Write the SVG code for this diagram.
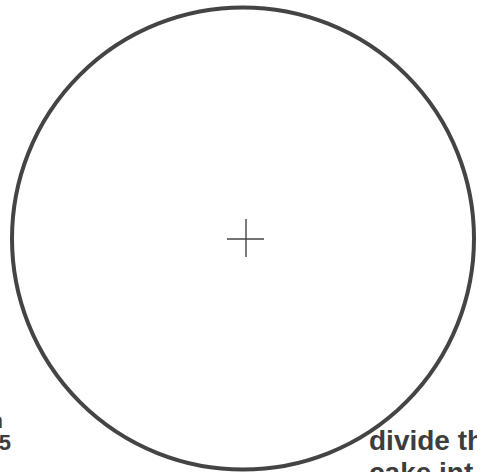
<svg xmlns="http://www.w3.org/2000/svg" width="477" height="472" viewBox="0 0 477 472">
<style>
.t{font-family:"Liberation Sans",Arial,sans-serif;font-weight:bold;fill:#3d3d3d}
.big{font-size:28px}
.small{font-size:22px}
</style>
<rect width="477" height="472" fill="#ffffff"/>
<g id="cake">
<circle cx="243" cy="238.5" r="231" fill="none" stroke="#444" stroke-width="4"/>
</g>
<g id="center-mark" stroke="#444" stroke-width="1.4">
<line x1="227" y1="239" x2="264" y2="239"/>
<line x1="246" y1="219" x2="246" y2="257"/>
</g>
<g id="labels">
<text class="t small" x="3" y="428" text-anchor="end">n</text>
<text class="t small" x="11" y="450" text-anchor="end">5</text>
<text class="t big" x="369" y="450">divide th</text>
<text class="t big" x="369" y="482">cake int</text>
</g>
</svg>
